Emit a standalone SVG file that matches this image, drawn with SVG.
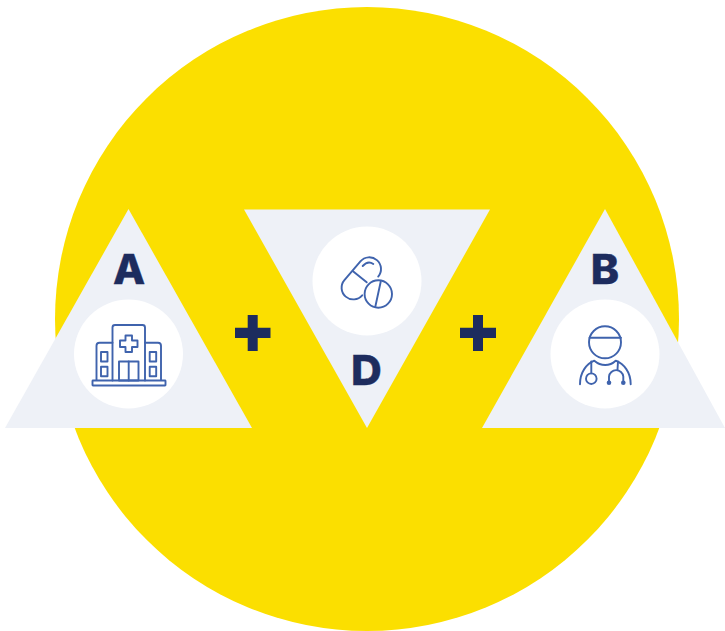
<svg xmlns="http://www.w3.org/2000/svg" width="725" height="631" viewBox="0 0 725 631">
<style>
.tri{fill:#eef1f7}
.disc{fill:#fff}
.ico{fill:none;stroke:#3f63ad;stroke-width:1.9;stroke-linecap:round;stroke-linejoin:round}
.lbl{font-family:Inter,"Liberation Sans",sans-serif;font-weight:800;font-size:41px;fill:#1d2c5e;text-anchor:middle;stroke:#1d2c5e;stroke-width:0.4}
.plus{fill:#1d2c5e}
</style>
<rect width="725" height="631" fill="#fff"/>
<circle id="backdrop" cx="367" cy="319" r="312" fill="#fbdf00"/>
<g id="node-a">
<polygon class="tri" points="128.500,209 252,428 5,428"/>
<circle class="disc" cx="128.500" cy="354" r="54.500"/>
<text class="lbl" transform="translate(129,284) scale(1.02,1)">A</text>
<g class="ico">
<path d="M112.500,380.500V327.500a2.500,2.500 0 0 1 2.500,-2.500H142.500a2.500,2.500 0 0 1 2.500,2.500V380.500"/>
<path d="M112.500,342.700H99.500a3,3 0 0 0 -3,3V380M145,342.700H158a3,3 0 0 1 3,3V380"/>
<rect x="92.500" y="380.500" width="73" height="5" rx="0.500"/>
<path d="M125.500,335.500h6.500v5h5.500v6.500h-5.500v5h-6.500v-5h-5.500v-6.500h5.500z"/>
<rect x="119" y="361.500" width="19.500" height="19"/>
<path d="M128.700,361.500V380.500"/>
<rect x="101" y="352" width="6.500" height="9.500"/>
<rect x="101" y="366.700" width="6.500" height="9.500"/>
<rect x="149.700" y="352" width="6.500" height="9.500"/>
<rect x="149.700" y="366.700" width="6.500" height="9.500"/>
</g>
</g>
<g id="node-d">
<polygon class="tri" points="244,209.500 490,209.500 367,428"/>
<circle class="disc" cx="367" cy="281" r="54.500"/>
<text class="lbl" transform="translate(366.500,385) scale(1.04,1)">D</text>
<g class="ico">
<path d="M378.200,276.600A11.700,11.700 0 0 0 360.400,261.400L344.400,280.100A11.700,11.700 0 0 0 362.200,295.300"/>
<path d="M353,271.200L366.700,282.300M362.700,266Q368,260 373.300,264"/>
<circle cx="378.300" cy="294" r="13.700"/>
<path d="M380.700,281.700L375.300,306.700"/>
</g>
</g>
<g id="node-b">
<polygon class="tri" points="605,209 725,428 482,428"/>
<circle class="disc" cx="605" cy="354" r="54.500"/>
<text class="lbl" transform="translate(605,284) scale(1.04,1)">B</text>
<g class="ico">
<circle cx="605" cy="342.300" r="16"/>
<path d="M589.500,337.700H621"/>
<path d="M580,384.300C580,372 586.500,364 594.300,360.700C601,366.500 609.500,366.500 615.700,360.700C624,364 630.700,372 630.700,384.300"/>
<path d="M591.300,361.500V373.300"/>
<circle cx="591.300" cy="378.700" r="5.300"/>
<path d="M618,361.500L617.500,369.500"/>
<path d="M609,382.700V376.500A7.200,7.200 0 0 1 623.300,376.500V382.700"/>
</g>
<circle cx="609" cy="382.700" r="2.300" fill="#3f63ad"/>
<circle cx="623.300" cy="382.700" r="2.300" fill="#3f63ad"/>
</g>
<g id="connectors">
<path class="plus" d="M247.700,315H257.700V327.700H270.500V338H257.700V351H247.700V338H235V327.700H247.700Z"/>
<path class="plus" d="M473,315H483V327.700H496V338H483V351H473V338H460V327.700H473Z"/>
</g>
</svg>
